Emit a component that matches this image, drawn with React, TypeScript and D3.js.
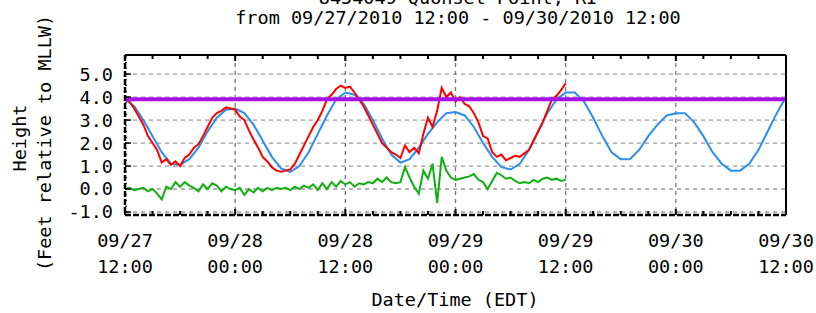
import React from "react";
import * as d3 from "d3";

// Time window of the plot
const startTime = new Date(2010, 8, 27, 12, 0);
const endTime = new Date(2010, 8, 30, 12, 0);

// Predicted tide, hourly from 09/27 12:00 (feet, MLLW)
const predicted = [
  3.9, 3.6, 3.0, 2.3, 1.6, 1.1, 1.05, 1.3, 1.8, 2.5, 3.1, 3.45, 3.5,
  3.3, 2.8, 2.1, 1.4, 0.9, 0.75, 1.0, 1.6, 2.4, 3.2, 3.9, 4.2,
  4.1, 3.7, 3.0, 2.2, 1.5, 1.15, 1.3, 1.8, 2.4, 2.9, 3.3, 3.35,
  3.2, 2.7, 2.0, 1.4, 0.95, 0.85, 1.1, 1.7, 2.5, 3.3, 3.9, 4.2,
  4.2, 3.8, 3.1, 2.3, 1.6, 1.3, 1.3, 1.7, 2.3, 2.8, 3.2, 3.3,
  3.3, 2.9, 2.3, 1.6, 1.1, 0.8, 0.8, 1.1, 1.7, 2.5, 3.3, 4.0
];

// Observed water level, every 30 minutes from 09/27 12:00
const observed = [
  3.9, 3.8, 3.5, 3.15, 2.8, 2.3, 2.0, 1.7, 1.15, 1.3, 1.05, 1.2,
  1.0, 1.35, 1.5, 1.8, 1.95, 2.3, 2.7, 3.1, 3.3, 3.4, 3.55, 3.5,
  3.45, 3.15, 3.0, 2.55, 2.15, 1.8, 1.4, 1.2, 0.95, 0.8, 0.75, 0.8,
  0.85, 1.1, 1.5, 1.9, 2.3, 2.7, 3.0, 3.4, 3.9, 4.1, 4.35, 4.5,
  4.4, 4.45, 4.2, 3.9, 3.6, 3.2, 2.8, 2.4, 2.0, 1.8, 1.6, 1.5,
  1.35, 1.9, 1.6, 1.8, 1.55, 2.4, 3.1, 2.7, 3.4, 4.4, 4.0, 4.2,
  3.8, 4.0, 3.7, 3.6, 3.3, 2.9, 2.3, 2.2, 1.6, 1.4, 1.5, 1.25,
  1.35, 1.45, 1.4, 1.55, 1.7, 2.1, 2.5, 2.9, 3.4, 3.9, 4.05, 4.3,
  4.6
];

// Residual (observed - predicted), every 30 minutes
const residual = [
  0.0, 0.05, -0.05, 0.0, 0.05, -0.1, 0.0, -0.2, -0.45, 0.1, 0.0, 0.3,
  0.1, 0.3, 0.15, 0.05, -0.1, 0.2, 0.0, 0.25, 0.15, -0.1, 0.1, 0.0,
  -0.05, 0.05, -0.25, 0.0, -0.15, 0.05, -0.1, 0.05, -0.05, 0.05, 0.0, 0.05,
  -0.05, 0.1, 0.0, 0.15, 0.05, 0.2, -0.05, 0.25, 0.0, 0.3, 0.1, 0.35,
  0.2, 0.3, 0.1, 0.25, 0.2, 0.3, 0.25, 0.45, 0.3, 0.5, 0.3, 0.25,
  0.3, 0.95, 0.5, 0.1, -0.2, 0.8, 0.45, 1.1, -0.6, 1.4, 0.8, 0.5,
  0.4, 0.45, 0.5, 0.55, 0.65, 0.4, 0.3, 0.0, 0.35, 0.7, 0.6, 0.45,
  0.5, 0.35, 0.25, 0.3, 0.25, 0.4, 0.3, 0.45, 0.5, 0.4, 0.45, 0.35,
  0.4
];

const floodLevel = 3.9;
const yTicks = [-1, 0, 1, 2, 3, 4, 5];
const titleLines = ["8454049 Quonset Point, RI", "from 09/27/2010 12:00 - 09/30/2010 12:00"];

const W = 816;
const H = 313;
const font = "'DejaVu Sans Mono', 'Liberation Mono', monospace";

export default function App() {
  const x = d3.scaleTime().domain([startTime, endTime]).range([125, 786]);
  const y = d3.scaleLinear().domain([-1.13, 5.83]).range([215, 55]);

  const hourly = predicted.map((v, i) => ({ t: d3.timeHour.offset(startTime, i), v }));
  const obs = observed.map((v, i) => ({ t: d3.timeMinute.offset(startTime, i * 30), v }));
  const res = residual.map((v, i) => ({ t: d3.timeMinute.offset(startTime, i * 30), v }));

  const line = d3.line<{ t: Date; v: number }>()
    .x(d => x(d.t))
    .y(d => y(d.v));

  const minorTicks = d3.timeHour.every(3)!.range(startTime, d3.timeMinute.offset(endTime, 1));
  const majorTicks = d3.timeHour.every(12)!.range(startTime, d3.timeMinute.offset(endTime, 1));
  const fmtDay = d3.timeFormat("%m/%d");
  const fmtTime = d3.timeFormat("%H:%M");

  const [x0, x1] = x.range();
  const [yb, yt] = y.range();
  const yMinor = d3.range(-1, 5.81, 0.25);

  return (
    <svg width={W} height={H} style={{ position: "absolute", left: 0, top: 0, background: "#fff" }}
      fontFamily={font}>
      {/* title */}
      {titleLines.map((t, i) => (
        <text key={t} x={458} y={4 + i * 20} textAnchor="middle" fontSize={18.5} fill="#000">{t}</text>
      ))}

      {/* grid */}
      {yTicks.map(v => (
        <line key={"gy" + v} x1={x0} x2={x1} y1={y(v)} y2={y(v)}
          stroke="#9a9a9a" strokeWidth={1.3} strokeDasharray="4,4" />
      ))}
      {majorTicks.map(t => (
        <line key={"gx" + t.getTime()} x1={x(t)} x2={x(t)} y1={yt} y2={yb}
          stroke="#777" strokeWidth={1.3} strokeDasharray="4,4" />
      ))}

      {/* series */}
      <path d={line(hourly) ?? ""} fill="none" stroke="#2b8ef0" strokeWidth={2} />
      <path d={line(obs) ?? ""} fill="none" stroke="#ff0000" strokeWidth={2} />
      <path d={line(res) ?? ""} fill="none" stroke="#10b010" strokeWidth={2} />
      <line x1={x0} x2={x1} y1={y(floodLevel)} y2={y(floodLevel)} stroke="#a812ea" strokeWidth={4} />

      {/* frame */}
      <line x1={x0} x2={x1} y1={yt} y2={yt} stroke="#000" strokeWidth={2} />
      <line x1={x1} x2={x1} y1={yt} y2={yb} stroke="#000" strokeWidth={2} />
      <line x1={x0} x2={x0} y1={yt} y2={yb} stroke="#000" strokeWidth={2.5} strokeDasharray="6,2" />
      <line x1={x0} x2={x1} y1={yb} y2={yb} stroke="#000" strokeWidth={2.5} strokeDasharray="6,2" />

      {/* y ticks */}
      {yMinor.map(v => (
        <line key={"ym" + v} x1={x0} x2={x0 + 2} y1={y(v)} y2={y(v)} stroke="#000" strokeWidth={1} />
      ))}
      {yTicks.map(v => (
        <g key={"yt" + v}>
          <line x1={x0} x2={x0 + 6} y1={y(v)} y2={y(v)} stroke="#000" strokeWidth={1.5} />
          <text x={113} y={y(v)} dy="0.35em" textAnchor="end" fontSize={18.5} fill="#000">
            {v.toFixed(1)}
          </text>
        </g>
      ))}

      {/* x ticks top & bottom */}
      {minorTicks.map(t => {
        const major = t.getHours() % 12 === 0;
        const len = major ? 6 : 4;
        return (
          <g key={"xt" + t.getTime()}>
            <line x1={x(t)} x2={x(t)} y1={yb} y2={yb - len} stroke="#000" strokeWidth={2} />
            <line x1={x(t)} x2={x(t)} y1={yt} y2={yt + len} stroke="#000" strokeWidth={2} />
          </g>
        );
      })}
      {majorTicks.map(t => (
        <g key={"xl" + t.getTime()}>
          <text x={x(t)} y={247} textAnchor="middle" fontSize={18.5} fill="#000">{fmtDay(t)}</text>
          <text x={x(t)} y={273} textAnchor="middle" fontSize={18.5} fill="#000">{fmtTime(t)}</text>
        </g>
      ))}

      {/* axis titles */}
      <text x={455} y={306} textAnchor="middle" fontSize={18.5} fill="#000">Date/Time (EDT)</text>
      <text transform="translate(26,138) rotate(-90)" textAnchor="middle" fontSize={18.5} fill="#000">Height</text>
      <text transform="translate(51,143) rotate(-90)" textAnchor="middle" fontSize={18.5} fill="#000">
        (Feet relative to MLLW)
      </text>
    </svg>
  );
}
